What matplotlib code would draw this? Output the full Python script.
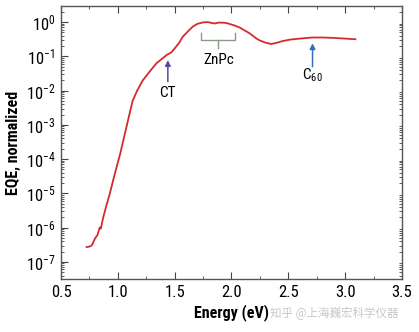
"""
EQE spectrum plot (log scale) with CT / ZnPc / C60 markers
"""

import numpy as np
import matplotlib
matplotlib.use('Agg')
import matplotlib.pyplot as plt
from matplotlib.ticker import MultipleLocator, LogLocator

# data
energy = [0.725, 0.75, 0.77, 0.78, 0.80, 0.82, 0.84, 0.85, 0.87, 0.90,
          0.93, 0.96, 0.99, 1.02, 1.06, 1.10, 1.13, 1.17, 1.22, 1.28,
          1.34, 1.40, 1.43, 1.47, 1.50, 1.54, 1.57, 1.62, 1.66, 1.70,
          1.75, 1.79, 1.85, 1.89, 1.95, 1.98, 2.03, 2.07, 2.12, 2.16,
          2.22, 2.25, 2.30, 2.35, 2.40, 2.45, 2.52, 2.60, 2.71, 2.80,
          2.89, 3.00, 3.09]
eqe = [2.7e-7, 2.8e-7, 3.0e-7, 3.5e-7, 4.9e-7, 6.0e-7, 1.0e-6, 9.3e-7, 1.9e-6, 4.5e-6,
       1.0e-5, 2.5e-5, 6.0e-5, 1.4e-4, 5.2e-4, 1.9e-3, 5.0e-3, 1.0e-2, 2.0e-2, 3.6e-2,
       6.3e-2, 9.1e-2, 1.1e-1, 1.3e-1, 1.7e-1, 2.5e-1, 3.7e-1, 5.5e-1, 7.4e-1, 8.9e-1,
       0.98, 1.0, 0.91, 0.97, 0.95, 0.89, 0.79, 0.70, 0.56, 0.47,
       0.33, 0.29, 0.25, 0.23, 0.25, 0.28, 0.31, 0.33, 0.355, 0.355,
       0.347, 0.33, 0.316]

xticks = [0.5, 1.0, 1.5, 2.0, 2.5, 3.0, 3.5]

fonts = ['DejaVu Sans Condensed', 'Liberation Sans Narrow', 'Roboto Condensed', 'DejaVu Sans']
plt.rcParams['font.family'] = fonts
plt.rcParams['font.stretch'] = 'condensed'
plt.rcParams['mathtext.fontset'] = 'custom'
plt.rcParams['mathtext.rm'] = 'DejaVu Sans Condensed'
plt.rcParams['mathtext.default'] = 'regular'

fig = plt.figure(figsize=(4.19, 3.32), dpi=100)
ax = fig.add_axes([0.1456, 0.1596, 0.8138, 0.8223])

ax.plot(energy, eqe, color='#d42a2f', lw=1.3)

ax.set_yscale('log')
ax.set_xlim(0.5, 3.5)
ax.set_ylim(3.16e-8, 2.95)
ax.set_xticks(xticks)
ax.set_xticklabels(['{:.1f}'.format(v) for v in xticks])
ax.xaxis.set_minor_locator(MultipleLocator(0.25))
ax.yaxis.set_major_locator(LogLocator(base=10, numticks=20))
ax.yaxis.set_minor_locator(LogLocator(base=10, subs=np.arange(2, 10), numticks=20))

for s in ax.spines.values():
    s.set_color('#555555')
    s.set_linewidth(1.0)
ax.tick_params(which='both', direction='in', top=True, right=True,
               color='#444444', labelsize=12, pad=4)
ax.tick_params(which='major', length=5)
ax.tick_params(which='minor', length=2.5)
ax.tick_params(axis='y', which='major', right=False)

ax.set_xlabel('Energy (eV)', fontsize=11.5, fontweight='bold', labelpad=3)
ax.set_ylabel('EQE, normalized', fontsize=11.5, fontweight='bold', labelpad=3)

# CT arrow
ax.annotate('', xy=(1.44, 10**-1.11), xytext=(1.44, 10**-1.74),
            arrowprops=dict(arrowstyle='-|>', color='#5a4a9c', lw=1.1,
                            mutation_scale=8, shrinkA=0, shrinkB=0))
ax.text(1.44, 10**-2.08, 'CT', ha='center', va='center', fontsize=11)

# ZnPc bracket
bc = '#8a9a85'
ax.plot([1.734, 1.734, 2.032, 2.032], [10**-0.31, 10**-0.525, 10**-0.525, 10**-0.31],
        color=bc, lw=1.0)
ax.plot([1.883, 1.883], [10**-0.525, 10**-0.77], color=bc, lw=1.0)
ax.text(1.883, 10**-1.11, 'ZnPc', ha='center', va='center', fontsize=11)

# C60 arrow
ax.annotate('', xy=(2.713, 10**-0.62), xytext=(2.713, 10**-1.30),
            arrowprops=dict(arrowstyle='-|>', color='#3c6db0', lw=1.1,
                            mutation_scale=8, shrinkA=0, shrinkB=0))
ax.text(2.713, 10**-1.55, 'C$_{60}$', ha='center', va='center', fontsize=11)

# watermark
fig.text(0.645, 0.057, '知乎 @上海巍宏科学仪器', fontsize=8.3, color='#c8c8c8',
         ha='left', va='center', family=['Noto Sans CJK SC', 'DejaVu Sans'])

plt.savefig('out.png', dpi=100)
